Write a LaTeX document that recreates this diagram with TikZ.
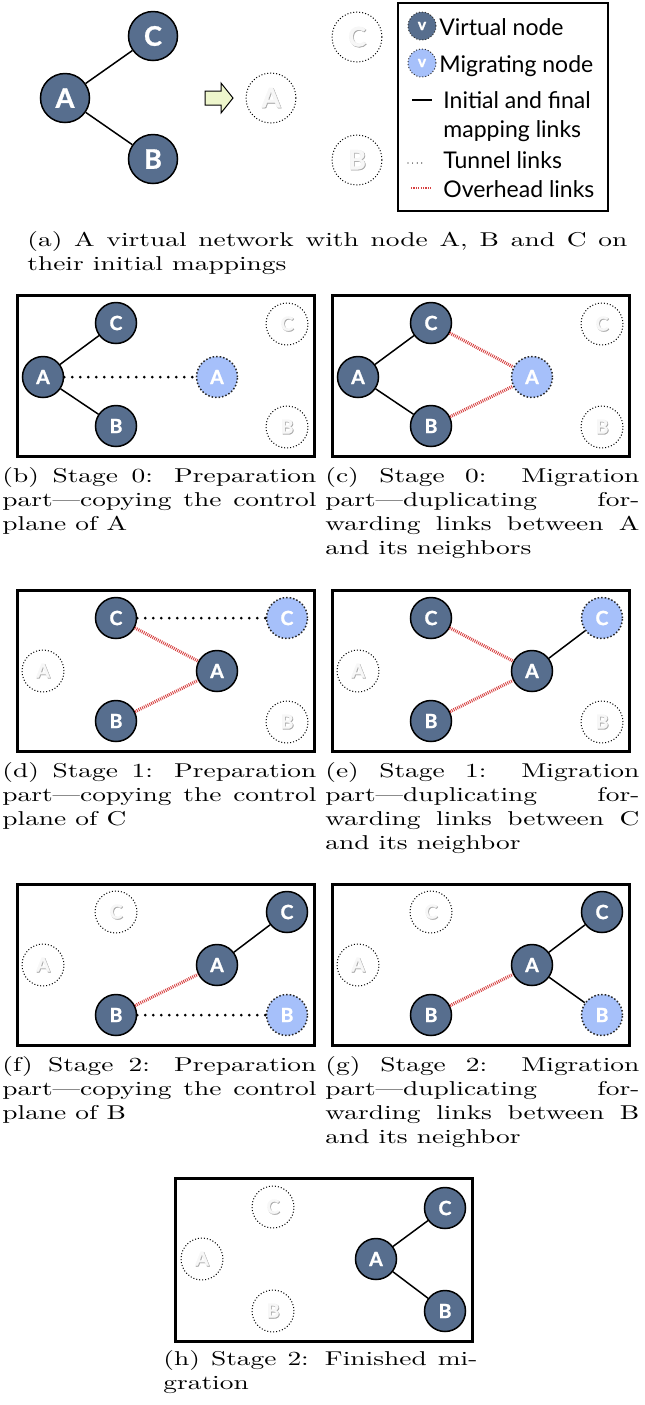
\documentclass[tikz,border=0pt]{standalone}
\usepackage{fontspec}
\usepackage{xcolor}
\usepackage{tikz}
\usetikzlibrary{calc,positioning}
\newfontfamily\lblfont{Lato}[BoldFeatures={FakeBold=1.2}]
\newfontfamily\capfont{lmroman10-regular.otf}[FakeStretch=1.37]
\definecolor{vfill}{RGB}{87,110,142}
\definecolor{mfill}{RGB}{166,192,250}
\definecolor{ohred}{RGB}{214,64,64}
\definecolor{arrfill}{RGB}{238,246,204}
\hbadness=10000
\newcommand{\ghosttxt}[1]{{\color{black!35}\rlap{\kern0.4pt\raisebox{-0.4pt}{#1}}}{\color{black!3}#1}}
\tikzset{
  vnode/.style={circle,draw=black,line width=0.75pt,fill=vfill,text=white,inner sep=0pt,
    minimum size=20.5pt,font=\lblfont\bfseries\fontsize{9.8}{10}\selectfont},
  bignode/.style={vnode,minimum size=24.5pt,font=\lblfont\bfseries\fontsize{13.5}{14}\selectfont},
  mnode/.style={vnode,fill=mfill,draw=black!85,densely dotted},
  gnode/.style={circle,draw=black,densely dotted,line width=0.5pt,inner sep=0pt,
    minimum size=21pt,font=\lblfont\bfseries\fontsize{9.8}{10}\selectfont},
  biggnode/.style={gnode,minimum size=25pt,font=\lblfont\bfseries\fontsize{13.5}{14}\selectfont},
  maplink/.style={line width=0.75pt},
  tunnel/.style={line width=1.5pt,line cap=round,dash pattern=on 0pt off 4pt},
  overhead/.style={draw=ohred,line width=1.6pt,dash pattern=on 0.45pt off 0.55pt},
  panel/.style={line width=1.5pt},
  caption/.style={anchor=north west,text width=157pt,align=justify,inner sep=0pt,
    font=\capfont\fontsize{10}{12}\selectfont},
  lgicon/.style={circle,draw=black!80,densely dotted,line width=0.5pt,minimum size=14pt,
    inner sep=0pt,text=white,font=\lblfont\bfseries\fontsize{8}{8}\selectfont},
  lgtext/.style={anchor=base west,inner sep=0pt,font=\lblfont\fontsize{11.5}{12}\selectfont}
}

\begin{document}
\begin{tikzpicture}[x=0.5pt,y=-0.5pt]
  \useasboundingbox (0,0) rectangle (644,1405);

  % (a) initial network
  \node[bignode] (aA) at (65,98) {A};
  \node[bignode] (aC) at (153,36) {C};
  \node[bignode] (aB) at (153,159) {B};
  \draw[maplink] (aA) -- (aC);
  \draw[maplink] (aA) -- (aB);
  \draw[fill=arrfill,line width=0.5pt] (205,91) -- (221,91) -- (221,83) -- (233,98)
    -- (221,113) -- (221,105) -- (205,105) -- cycle;
  \node[biggnode] (agA) at (271,98) {\ghosttxt{A}};
  \node[biggnode] (agC) at (357,37) {\ghosttxt{C}};
  \node[biggnode] (agB) at (357,160) {\ghosttxt{B}};

  % legend
  \draw[line width=0.6pt] (398,3) rectangle (608,211);
  \node[lgicon,fill=vfill] (lgV) at (422,26) {v};
  \node[lgicon,fill=mfill] (lgM) at (422,63) {v};
  \node[lgtext] (lgVt) at (439,35) {Virtual node};
  \node[lgtext] (lgMt) at (439,72) {Migrating node};
  \node[lgtext] (lgIt) at (443,108) {Initial and final};
  \node[lgtext] (lgIt2) at (443,137) {mapping links};
  \node[lgtext] (lgTt) at (443,168) {Tunnel links};
  \node[lgtext] (lgOt) at (443,197) {Overhead links};
  \coordinate (lgI1) at (412,100);
  \coordinate (lgI2) at (432,100);
  \coordinate (lgT1) at (408,163);
  \coordinate (lgT2) at (422,163);
  \coordinate (lgO1) at (411,188);
  \coordinate (lgO2) at (432,188);
  \draw[maplink] (lgI1) -- (lgI2);
  \draw[line width=0.6pt,line cap=round,dash pattern=on 0pt off 2.3pt] (lgT1) -- (lgT2);
  \draw[overhead,line width=1.4pt,dash pattern=on 0.6pt off 0.6pt] (lgO1) -- (lgO2);

  \node[caption,text width=300pt] (capa) at (27,231)
    {(a) A virtual network with node A, B and C on\linebreak their initial mappings};

  % (b) stage 0, preparation
  \begin{scope}[shift={(17,295)}]
    \draw[panel] (0,0) rectangle (297,161);
    \node[vnode] (bA) at (26,82) {A};
    \node[vnode] (bC) at (99,28) {C};
    \node[vnode] (bB) at (99,131) {B};
    \node[mnode] (bM) at (200,82) {A};
    \node[gnode] (bgC) at (270,29) {\ghosttxt{C}};
    \node[gnode] (bgB) at (270,132) {\ghosttxt{B}};
    \draw[maplink] (bA) -- (bC);
    \draw[maplink] (bA) -- (bB);
    \draw[tunnel] (bA) -- (bM);
  \end{scope}
  \node[caption] (capb) at (2,467)
    {(b) Stage 0: Preparation\linebreak part—copying the control\linebreak plane of A};

  % (c) stage 0, migration
  \begin{scope}[shift={(332,295)}]
    \draw[panel] (0,0) rectangle (297,161);
    \node[vnode] (cA) at (26,82) {A};
    \node[vnode] (cC) at (99,28) {C};
    \node[vnode] (cB) at (99,131) {B};
    \node[mnode] (cM) at (200,82) {A};
    \node[gnode] (cgC) at (270,29) {\ghosttxt{C}};
    \node[gnode] (cgB) at (270,132) {\ghosttxt{B}};
    \draw[maplink] (cA) -- (cC);
    \draw[maplink] (cA) -- (cB);
    \draw[overhead] (cC) -- (cM);
    \draw[overhead] (cB) -- (cM);
  \end{scope}
  \node[caption] (capc) at (325,467)
    {(c) Stage 0: Migration\linebreak part—duplicating for-\linebreak warding links between A\linebreak and its neighbors};

  % (d) stage 1, preparation
  \begin{scope}[shift={(17,590)}]
    \draw[panel] (0,0) rectangle (297,161);
    \node[gnode] (dgA) at (26,81) {\ghosttxt{A}};
    \node[vnode] (dC) at (99,28) {C};
    \node[vnode] (dB) at (99,131) {B};
    \node[vnode] (dA) at (200,81) {A};
    \node[mnode] (dM) at (270,28) {C};
    \node[gnode] (dgB) at (270,132) {\ghosttxt{B}};
    \draw[tunnel] (dC) -- (dM);
    \draw[overhead] (dC) -- (dA);
    \draw[overhead] (dB) -- (dA);
  \end{scope}
  \node[caption] (capd) at (2,762)
    {(d) Stage 1: Preparation\linebreak part—copying the control\linebreak plane of C};

  % (e) stage 1, migration
  \begin{scope}[shift={(332,590)}]
    \draw[panel] (0,0) rectangle (297,161);
    \node[gnode] (egA) at (26,81) {\ghosttxt{A}};
    \node[vnode] (eC) at (99,28) {C};
    \node[vnode] (eB) at (99,131) {B};
    \node[vnode] (eA) at (200,81) {A};
    \node[mnode] (eM) at (270,28) {C};
    \node[gnode] (egB) at (270,132) {\ghosttxt{B}};
    \draw[overhead] (eC) -- (eA);
    \draw[overhead] (eB) -- (eA);
    \draw[maplink] (eA) -- (eM);
  \end{scope}
  \node[caption] (cape) at (325,762)
    {(e) Stage 1: Migration\linebreak part—duplicating for-\linebreak warding links between C\linebreak and its neighbor};

  % (f) stage 2, preparation
  \begin{scope}[shift={(17,884)}]
    \draw[panel] (0,0) rectangle (297,161);
    \node[gnode] (fgC) at (99,28) {\ghosttxt{C}};
    \node[gnode] (fgA) at (26,81) {\ghosttxt{A}};
    \node[vnode] (fA) at (200,81) {A};
    \node[vnode] (fC) at (270,28) {C};
    \node[vnode] (fB) at (99,131) {B};
    \node[mnode] (fM) at (270,131) {B};
    \draw[maplink] (fA) -- (fC);
    \draw[overhead] (fB) -- (fA);
    \draw[tunnel] (fB) -- (fM);
  \end{scope}
  \node[caption] (capf) at (2,1056)
    {(f) Stage 2: Preparation\linebreak part—copying the control\linebreak plane of B};

  % (g) stage 2, migration
  \begin{scope}[shift={(332,884)}]
    \draw[panel] (0,0) rectangle (297,161);
    \node[gnode] (ggC) at (99,28) {\ghosttxt{C}};
    \node[gnode] (ggA) at (26,81) {\ghosttxt{A}};
    \node[vnode] (gA) at (200,81) {A};
    \node[vnode] (gC) at (270,28) {C};
    \node[vnode] (gB) at (99,131) {B};
    \node[mnode] (gM) at (270,131) {B};
    \draw[maplink] (gA) -- (gC);
    \draw[overhead] (gB) -- (gA);
    \draw[maplink] (gA) -- (gM);
  \end{scope}
  \node[caption] (capg) at (325,1056)
    {(g) Stage 2: Migration\linebreak part—duplicating for-\linebreak warding links between B\linebreak and its neighbor};

  % (h) finished
  \begin{scope}[shift={(175,1178)}]
    \draw[panel] (0,0) rectangle (297,163);
    \node[gnode] (hgA) at (27,81) {\ghosttxt{A}};
    \node[gnode] (hgC) at (98,29) {\ghosttxt{C}};
    \node[gnode] (hgB) at (98,133) {\ghosttxt{B}};
    \node[vnode] (hA) at (201,81) {A};
    \node[vnode] (hC) at (270,30) {C};
    \node[vnode] (hB) at (270,133) {B};
    \draw[maplink] (hA) -- (hC);
    \draw[maplink] (hA) -- (hB);
  \end{scope}
  \node[caption] (caph) at (163,1350)
    {(h) Stage 2: Finished mi-\linebreak gration};
\end{tikzpicture}
\end{document}
